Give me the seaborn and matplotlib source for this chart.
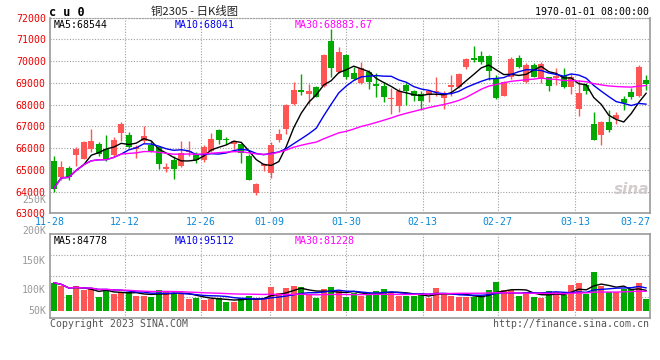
import numpy as np
import pandas as pd
import matplotlib
matplotlib.use("Agg")
import matplotlib.pyplot as plt
import seaborn as sns

# daily K-line data, 11-28 .. 03-27
opens = [65400, 64670, 65100, 65680, 65490, 65970, 66210, 65970, 65680, 66700,
         66620, 65970, 66320, 66130, 66060, 65040, 65450, 65160, 65800, 65740,
         65450, 65860, 66820, 66410, 66200, 66170, 65630, 63920, 65170, 64850,
         66350, 66880, 68030, 68680, 68500, 68790, 68880, 70920, 69520, 70280,
         69440, 68990, 69520, 68960, 68870, 68260, 67920, 68910, 68640, 68500,
         68450, 68560, 68300, 68800, 68800, 69750, 70130, 70240, 70240, 69170,
         68420, 69250, 70130, 69060, 69830, 69190, 69250, 69220, 69340, 68830,
         67800, 68910, 67130, 66590, 67200, 67360, 68260, 68560, 68410, 69140]
closes = [64140, 65130, 64690, 65940, 66270, 66320, 65750, 65510, 66390, 67130,
          66040, 66070, 66550, 65860, 65250, 65130, 65050, 65770, 65850, 65450,
          66060, 66440, 66390, 66380, 66320, 65780, 64530, 64340, 65250, 66120,
          66650, 68000, 68680, 68590, 68620, 68360, 70280, 69670, 70420, 69290,
          69190, 69670, 69020, 68870, 68330, 68300, 68610, 68610, 68420, 68150,
          68610, 68610, 68480, 68910, 69410, 70100, 70050, 69980, 69570, 68300,
          69020, 70100, 69720, 69830, 69290, 69860, 68880, 69320, 68790, 69290,
          68530, 68640, 66390, 67200, 66810, 67540, 68070, 68330, 69750, 68960]
highs = [65650, 65400, 65170, 66060, 66320, 66880, 66300, 66580, 66530, 67190,
         66760, 66130, 67030, 66320, 66090, 65330, 65630, 66320, 66320, 65810,
         66120, 66700, 66880, 66520, 66350, 66200, 65710, 64410, 65330, 66270,
         66880, 68030, 69030, 69400, 68940, 68870, 70330, 71500, 70630, 70310,
         69750, 69980, 69600, 69440, 69060, 68760, 68760, 68990, 68680, 68610,
         68680, 69290, 68640, 69370, 69440, 70160, 70700, 70470, 70280, 69370,
         69090, 70180, 70280, 69900, 69930, 69980, 69290, 69670, 69670, 69400,
         69140, 68990, 67660, 67230, 67740, 67660, 68410, 68760, 69830, 69370]
lows = [63990, 64530, 64530, 65170, 65480, 65810, 65630, 65400, 65620, 66320,
        66010, 65560, 66240, 65830, 65050, 64910, 64590, 65130, 65630, 65310,
        65360, 65830, 66200, 66170, 65940, 65330, 64520, 63830, 64950, 64630,
        66270, 66650, 68000, 68440, 68030, 68330, 68830, 69250, 69440, 69170,
        69140, 68940, 68730, 68330, 68120, 67570, 67660, 67970, 68150, 67770,
        68120, 68380, 67800, 68380, 68760, 69630, 69980, 69870, 69140, 68270,
        68410, 69190, 69670, 68990, 69250, 68990, 68640, 68910, 68760, 68500,
        67460, 68480, 66360, 66130, 66750, 67130, 67740, 68250, 68330, 68680]
volumes = [116760, 102860, 65330, 102860, 86180, 90350, 56990, 90350, 68110, 76450,
           79230, 62550, 62550, 58380, 86180, 79230, 75060, 68110, 48650, 51430,
           44480, 48650, 54210, 37530, 37530, 51430, 61160, 51430, 51430, 100080,
           75060, 93130, 102860, 97300, 65330, 51430, 90350, 97300, 82010, 58380,
           72280, 61160, 72280, 82010, 88960, 79230, 61160, 61160, 61160, 68110,
           54210, 93130, 75060, 61160, 55600, 58380, 58380, 58380, 86180, 119540,
           86180, 86180, 61160, 79230, 55600, 51430, 82010, 79230, 65330, 107030,
           115370, 68110, 161240, 102860, 79230, 79230, 90350, 90350, 115370, 48650]

date_labels = ["11-28", "12-12", "12-26", "01-09", "01-30", "02-13", "02-27", "03-13", "03-27"]
price_ticks = [63000, 64000, 65000, 66000, 67000, 68000, 69000, 70000, 71000, 72000]
vol_labels = ["250K", "200K", "150K", "100K", "50K"]

RED = "#ff5555"
GREEN = "#00a800"
GRID = "#a0a0a0"
FRAME = "#999999"
MONO = "DejaVu Sans Mono"

sns.set_style("white")
plt.rcParams["font.family"] = [MONO]

df = pd.DataFrame({"open": opens, "close": closes, "high": highs, "low": lows, "vol": volumes})
df["x"] = np.arange(len(df)) + 0.5
df["up"] = df["close"] >= df["open"]
df["color"] = np.where(df["up"], RED, GREEN)
for n in (5, 10, 30):
    df[f"ma{n}"] = df["close"].rolling(n, min_periods=1).mean()
    df[f"vma{n}"] = df["vol"].rolling(n, min_periods=1).mean()

W, H = 660, 360
fig = plt.figure(figsize=(6.6, 3.6), dpi=100)
ax = fig.add_axes([50 / W, 1 - 213.3 / H, 600 / W, 195.6 / H])
axv = fig.add_axes([50 / W, 1 - 318.3 / H, 600 / W, 84 / H])

tick_pos = [0, 10, 20.1, 29.3, 39.5, 49.7, 59.7, 70, 78]

# ---- candles
body = (df["close"] - df["open"]).abs().clip(lower=18)
bottom = df[["open", "close"]].min(axis=1)
ax.vlines(df["x"], df["low"], df["high"], colors=df["color"], lw=1, zorder=3)
ax.bar(df["x"], body, bottom=bottom, width=0.74, color=df["color"], lw=0, zorder=4)

for col, c in (("ma5", "black"), ("ma10", "#0000ee"), ("ma30", "#ff00ff")):
    sns.lineplot(x=df["x"], y=df[col], ax=ax, color=c, lw=1, legend=False, errorbar=None, zorder=5)

ax.set_xlim(0, len(df))
ax.set_ylim(price_ticks[0], price_ticks[-1])
ax.set_yticks(price_ticks)
ax.set_yticklabels([str(p) for p in price_ticks], color="#ee0000", fontsize=7.1)
ax.set_xticks(tick_pos)
ax.set_xticklabels(date_labels, color="#0a88d8", fontsize=7.1)
ax.tick_params(length=0, pad=3)
ax.set_xlabel("")
ax.set_ylabel("")
ax.grid(True, color=GRID, lw=0.8, ls=(0, (1, 1.5)))
ax.get_xgridlines()[-1].set_visible(False)
ax.get_xgridlines()[0].set_visible(False)

# ---- volume
axv.bar(df["x"], df["vol"], width=0.74, color=df["color"], lw=0, zorder=3)
for col, c in (("vma5", "black"), ("vma10", "#0000ee"), ("vma30", "#ff00ff")):
    sns.lineplot(x=df["x"], y=df[col], ax=axv, color=c, lw=1, legend=False, errorbar=None, zorder=5)
vlo, vhi = -31700, 318600
axv.set_xlim(0, len(df))
axv.set_ylim(vlo, vhi)
axv.set_yticks(np.linspace(vlo, vhi, 5)[1:-1])
axv.set_xticks(tick_pos[:-1])
axv.tick_params(labelleft=False, labelbottom=False, length=0)
axv.set_xlabel("")
axv.set_ylabel("")
axv.grid(True, color=GRID, lw=0.8, ls=(0, (1, 1.5)))
axv.get_xgridlines()[0].set_visible(False)

for a in (ax, axv):
    for s in a.spines.values():
        s.set_color(FRAME)
        s.set_linewidth(1.2)
ax.spines["top"].set_linestyle((0, (1, 1.5)))
ax.spines["top"].set_color(GRID)
ax.spines["top"].set_linewidth(0.8)


def ftext(px, py, s, **kw):
    kw.setdefault("va", "center")
    kw.setdefault("fontsize", 7.1)
    fig.text(px / W, 1 - py / H, s, **kw)


# header
ftext(49, 12, "c u 0", fontweight="bold", fontsize=8.5, color="black")
ftext(195, 11, "铜2305 - 日K线图", ha="center", fontsize=8.2, color="#222222",
      family=["Noto Sans CJK SC", "DejaVu Sans"])
ftext(649, 12, "1970-01-01 08:00:00", ha="right", color="black")

# moving average captions
ma_caps = [("MA5:68544", "black", 54), ("MA10:68041", "#0000ee", 175), ("MA30:68883.67", "#ff00ff", 295)]
for s, c, px in ma_caps:
    ftext(px, 24.5, s, color=c)
vma_caps = [("MA5:84778", "black", 54), ("MA10:95112", "#0000ee", 175), ("MA30:81228", "#ff00ff", 295)]
for s, c, px in vma_caps:
    ftext(px, 240.5, s, color=c)

# volume scale labels (placed as on the original)
for s, py in zip(vol_labels, [200, 231, 260.7, 290.3, 310.7]):
    ftext(46, py, s, ha="right", color="#999999")

# footer
ftext(50, 324, "Copyright 2023 SINA.COM", color="#555555")
ftext(649, 324, "http://finance.sina.com.cn", ha="right", color="#555555")

# watermark
ftext(632, 190, "sina", ha="center", fontsize=11, fontweight="bold", style="italic",
      color="#c8c0c0", alpha=0.8, family=["DejaVu Sans"])

fig.savefig("out.png", dpi=100)
